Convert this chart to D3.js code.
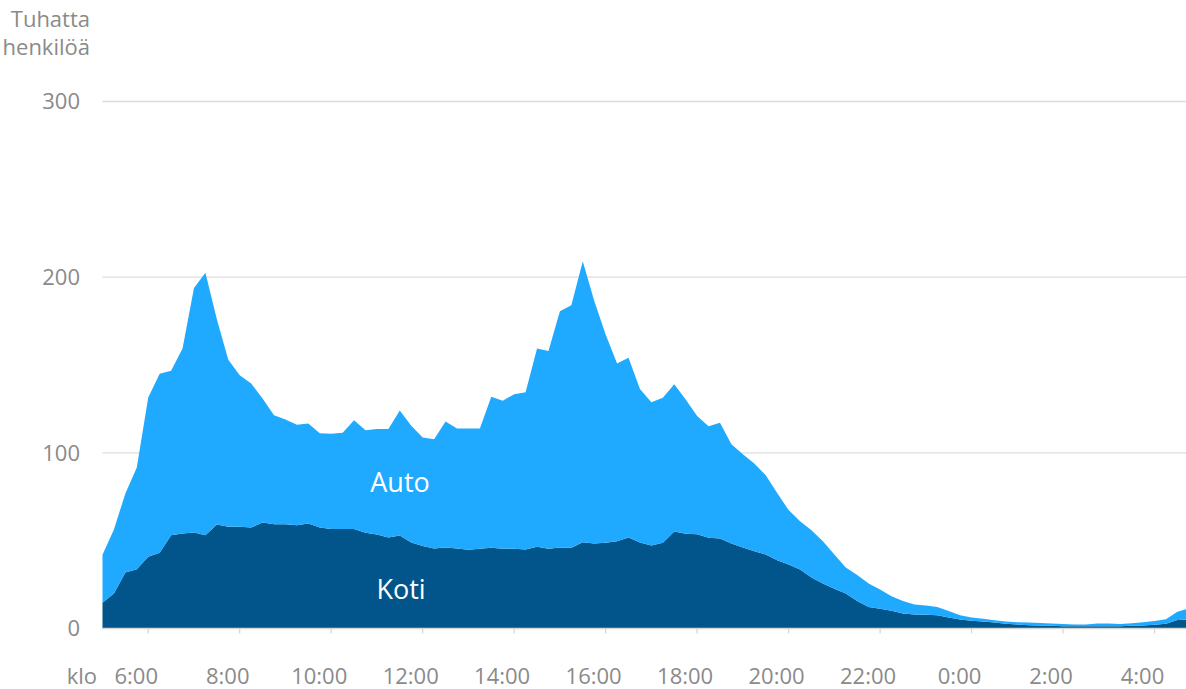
<!DOCTYPE html>
<html><head><meta charset="utf-8">
<script src="https://cdn.jsdelivr.net/npm/d3@7"></script>
<style>html,body{margin:0;padding:0;background:#fff;overflow:hidden}</style>
</head><body>
<svg id="c" width="1186" height="689"></svg>
<script>
const times = ["5:00","5:15","5:30","5:45","6:00","6:15","6:30","6:45","7:00","7:15","7:30","7:45",
"8:00","8:15","8:30","8:45","9:00","9:15","9:30","9:45","10:00","10:15","10:30","10:45",
"11:00","11:15","11:30","11:45","12:00","12:15","12:30","12:45","13:00","13:15","13:30","13:45",
"14:00","14:15","14:30","14:45","15:00","15:15","15:30","15:45","16:00","16:15","16:30","16:45",
"17:00","17:15","17:30","17:45","18:00","18:15","18:30","18:45","19:00","19:15","19:30","19:45",
"20:00","20:15","20:30","20:45","21:00","21:15","21:30","21:45","22:00","22:15","22:30","22:45",
"23:00","23:15","23:30","23:45","0:00","0:15","0:30","0:45","1:00","1:15","1:30","1:45",
"2:00","2:15","2:30","2:45","3:00","3:15","3:30","3:45","4:00","4:15","4:30","4:45"];
const koti = [14.6,19.9,31.9,33.8,40.8,43.1,53.1,54.1,54.6,53.1,59.2,57.9,
57.9,57.5,60.3,59.4,59.4,58.8,59.8,57.5,56.7,56.7,56.7,54.5,
53.5,51.8,52.9,49.0,46.9,45.5,46.1,45.5,44.8,45.4,45.9,45.4,
45.4,45.0,46.5,45.4,46.1,45.9,49.1,48.4,48.8,49.7,51.8,48.9,
47.2,48.8,55.2,53.9,53.7,51.6,51.2,48.4,46.1,44.0,42.1,38.9,
36.4,33.6,29.0,25.6,22.6,19.9,15.7,12.3,11.2,10.1,8.5,8.0,
7.8,7.6,6.3,5.1,4.4,4.0,3.4,2.7,2.3,1.9,1.7,1.5,
1.3,1.3,1.3,1.3,1.3,1.3,1.5,1.7,2.1,2.7,4.8,5.0];
const auto = [27.4,36.5,45.0,57.9,90.7,101.9,93.6,105.3,139.3,149.4,116.8,95.1,
86.3,82.0,70.7,62.0,59.6,57.2,56.9,53.7,54.1,54.7,61.9,58.4,
60.1,61.7,71.2,66.4,61.8,62.3,71.7,68.4,69.1,68.5,86.0,84.2,
88.0,89.5,112.9,112.6,134.5,138.1,160.0,138.2,118.6,101.2,102.3,87.4,
81.6,82.5,83.9,76.5,67.2,63.6,65.9,56.5,53.1,49.9,45.2,38.3,
31.0,27.5,27.0,24.1,19.5,14.8,14.7,13.3,11.0,8.3,7.2,5.7,
5.3,4.7,3.7,2.5,1.9,1.5,1.3,1.3,1.3,1.5,1.5,1.3,
1.2,1.0,1.0,1.5,1.5,1.2,1.5,1.9,2.1,2.5,4.7,6.5];
const tickLabels = ["6:00","8:00","10:00","12:00","14:00","16:00","18:00","20:00","22:00","0:00","2:00","4:00"];
const yTicks = [0,100,200,300];
const seriesNames = ["Koti","Auto"];
const colors = {Koti:"#02558A", Auto:"#1FAAFF"};

const svg = d3.select("#c");
const x = d3.scalePoint().domain(times).range([102.5, 102.5 + 95*11.435]);
const y = d3.scaleLinear().domain([0,300]).range([628.5, 101.5]);
const gridRight = 1186;
const gray = "#8a8a8a";
const font = "'Open Sans', sans-serif";
const fs = 22;

// gridlines
svg.append("g").selectAll("line").data(yTicks.filter(d=>d>0)).join("line")
  .attr("x1", 102.5).attr("x2", gridRight)
  .attr("y1", d=>y(d)).attr("y2", d=>y(d))
  .attr("stroke", "#dcdcdc").attr("stroke-width", 1.3);

const rows = times.map((t,i)=>({t, Koti:koti[i], Auto:auto[i]}));
const stack = d3.stack().keys(seriesNames)(rows);
const area = d3.area().x(d=>x(d.data.t)).y0(d=>y(d[0])).y1(d=>y(d[1]));
svg.append("g").selectAll("path").data(stack).join("path")
  .attr("d", area).attr("fill", d=>colors[d.key]);

// x axis baseline and ticks
svg.append("line").attr("x1",102.5).attr("x2",gridRight).attr("y1",y(0)).attr("y2",y(0))
  .attr("stroke","#d6d6d6").attr("stroke-width",1.3);
svg.append("g").selectAll("line").data(tickLabels).join("line")
  .attr("x1", d=>x(d)).attr("x2", d=>x(d)).attr("y1", y(0)).attr("y2", y(0)+5)
  .attr("stroke","#d6d6d6").attr("stroke-width",1.3);
svg.append("g").selectAll("text").data(tickLabels).join("text")
  .attr("x", d=>x(d)-12).attr("y", 684).attr("text-anchor","middle")
  .attr("font-family", font).attr("font-size", fs).attr("fill", gray).text(d=>d);
svg.append("text").attr("x",97).attr("y",684).attr("text-anchor","end")
  .attr("font-family", font).attr("font-size", fs).attr("fill", gray).text("klo");

// y axis labels
svg.append("g").selectAll("text").data(yTicks).join("text")
  .attr("x", 80).attr("y", d=>y(d)).attr("dy","0.35em").attr("text-anchor","end")
  .attr("font-family", font).attr("font-size", fs).attr("fill", gray).text(d=>d);
svg.append("text").attr("x",90).attr("y",27).attr("text-anchor","end")
  .attr("font-family", font).attr("font-size", fs).attr("fill", gray).text("Tuhatta");
svg.append("text").attr("x",90).attr("y",55).attr("text-anchor","end")
  .attr("font-family", font).attr("font-size", fs).attr("fill", gray).text("henkilöä");

// series labels
svg.append("text").attr("x",400).attr("y",492).attr("text-anchor","middle")
  .attr("font-family", font).attr("font-size", 27).attr("fill","#fff").text("Auto");
svg.append("text").attr("x",401).attr("y",599).attr("text-anchor","middle")
  .attr("font-family", font).attr("font-size", 27).attr("fill","#fff").text("Koti");
</script>
</body></html>
